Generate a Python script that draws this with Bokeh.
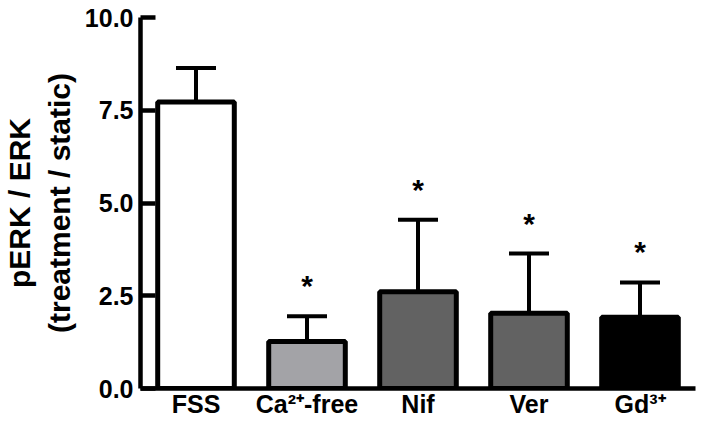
from bokeh.plotting import figure
from bokeh.models import (FactorRange, Range1d, FixedTicker, PrintfTickFormatter,
                          Whisker, TeeHead, ColumnDataSource)
from bokeh.core.properties import value
from bokeh.embed import file_html
from bokeh.resources import INLINE

# ---- data ----
categories = ["FSS", "Ca²⁺-free", "Nif", "Ver", "Gd³⁺"]
means = [7.72, 1.27, 2.61, 2.03, 1.92]
sds = [0.92, 0.68, 1.94, 1.61, 0.94]
significant = [False, True, True, True, True]
fill_colors = ["#ffffff", "#a3a3a7", "#626262", "#626262", "#000000"]
y_ticks = [0, 2.5, 5, 7.5, 10]
y_label = "pERK / ERK\n(treatment / static)"

FONT = "Liberation Sans"

upper = [m + s for m, s in zip(means, sds)]
src = ColumnDataSource(dict(x=categories, top=means, upper=upper, color=fill_colors))

p = figure(x_range=FactorRange(*categories), y_range=Range1d(0, 10),
           width=704, height=433, output_backend="svg", toolbar_location=None,
           min_border_left=140, min_border_right=9, min_border_top=17, min_border_bottom=45)
p.outline_line_color = None
p.xgrid.grid_line_color = None
p.ygrid.grid_line_color = None

p.vbar(x="x", top="top", width=0.69, bottom=0, source=src,
       fill_color="color", line_color="black", line_width=5)

whisk = Whisker(source=src, base="x", upper="upper", lower="top", dimension="height",
                line_color="black", line_width=4,
                upper_head=TeeHead(size=40, line_width=4, line_color="black"),
                lower_head=None)
p.add_layout(whisk)

sx = [c for c, s in zip(categories, significant) if s]
sy = [u + 0.82 for u, s in zip(upper, significant) if s]
p.text(x=sx, y=sy, text=["*"] * len(sx), text_align="center", text_baseline="alphabetic",
       text_font=value(FONT), text_font_style="bold", text_font_size="30px", text_color="black")

# y axis
ya = p.yaxis[0]
ya.ticker = FixedTicker(ticks=y_ticks)
ya.formatter = PrintfTickFormatter(format="%.1f")
ya.axis_line_width = 4.5
ya.axis_line_color = "black"
ya.major_tick_line_width = 4.5
ya.major_tick_in = 15
ya.major_tick_out = 0
ya.minor_tick_line_color = None
ya.major_label_standoff = 7
ya.major_label_text_font = FONT
ya.major_label_text_font_style = "bold"
ya.major_label_text_font_size = "25px"
ya.major_label_text_color = "black"
ya.axis_label = y_label
ya.axis_label_text_font = FONT
ya.axis_label_text_font_style = "bold"
ya.axis_label_text_font_size = "30px"
ya.axis_label_text_color = "black"
ya.axis_label_standoff = 6

# x axis
xa = p.xaxis[0]
xa.axis_line_width = 4.5
xa.axis_line_color = "black"
xa.major_tick_line_color = None
xa.major_tick_in = 0
xa.major_tick_out = 0
xa.minor_tick_line_color = None
xa.major_label_standoff = 1
xa.major_label_text_font = FONT
xa.major_label_text_font_style = "bold"
xa.major_label_text_font_size = "25px"
xa.major_label_text_color = "black"

open("out.html", "w").write(file_html(p, INLINE))
